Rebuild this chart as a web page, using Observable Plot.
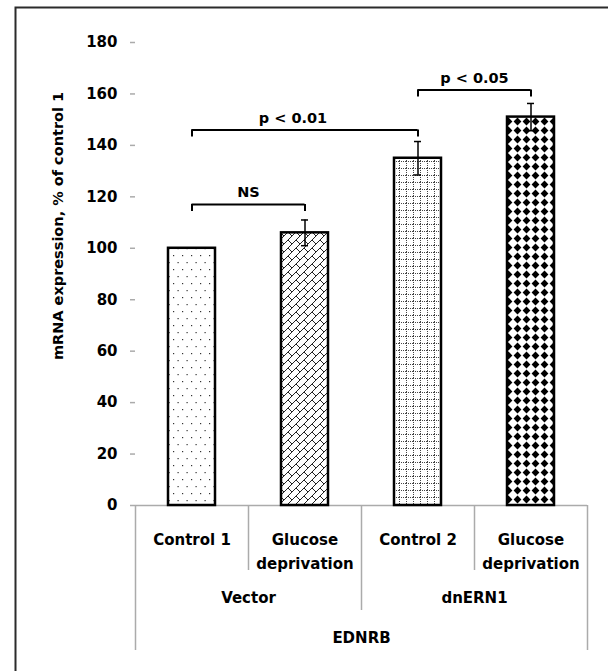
<!DOCTYPE html>
<html>
<head>
<meta charset="utf-8">
<script src="https://cdn.jsdelivr.net/npm/d3@7"></script>
<script src="https://cdn.jsdelivr.net/npm/@observablehq/plot@0.6"></script>
<style>
  html, body { margin: 0; padding: 0; background: #fff; overflow: hidden; }
  #chart { width: 608px; height: 671px; overflow: hidden; }
  #chart svg { overflow: hidden; }
</style>
</head>
<body>
<div id="chart"></div>
<script>
// Bar categories (innermost axis level), their groups and the gene
const categories = ["Control 1", "Glucose\ndeprivation", "Control 2", "Glucose\ndeprivation"];
const groups = ["Vector", "dnERN1"];
const gene = "EDNRB";

// mRNA expression, % of control 1, with error
const values = [100, 106, 135, 151];
const errors = [0, 5, 6.5, 5.3];

// y axis ticks
const yTicks = [0, 20, 40, 60, 80, 100, 120, 140, 160, 180];
const yLabel = "mRNA expression, % of control 1";

// significance brackets: between bar indices, height, label
const bracketFrom = [0, 0, 2];
const bracketTo = [1, 2, 3];
const bracketLevel = [117, 146, 161.5];
const bracketLabels = ["NS", "p < 0.01", "p < 0.05"];

// ---- build tables ----
const table = categories.map((cat, i) => ({i, cat, value: values[i], err: errors[i]}));
const withErr = table.filter(d => d.err > 0);
const caps = withErr.flatMap(d => [{i: d.i, y: d.value - d.err}, {i: d.i, y: d.value + d.err}]);
const brackets = bracketLabels.map((label, k) => ({
  label, from: bracketFrom[k], to: bracketTo[k], level: bracketLevel[k], mid: (bracketFrom[k] + bracketTo[k]) / 2
}));
const bracketEnds = brackets.flatMap(b => [{x: b.from, level: b.level}, {x: b.to, level: b.level}]);

// hierarchical axis boundaries between categories
const n = categories.length;
const perGroup = n / groups.length;
const boundaries = d3.range(n + 1).map(k => ({x: k - 0.5, k}));
const outerBounds = boundaries.filter(b => b.k === 0 || b.k === n);
const groupBounds = boundaries.filter(b => b.k !== 0 && b.k !== n && b.k % perGroup === 0);
const catBounds = boundaries.filter(b => b.k % perGroup !== 0);
const groupTable = groups.map((g, gi) => ({g, x: gi * perGroup + (perGroup - 1) / 2}));

const patternIds = ["url(#pat-dots)", "url(#pat-brick)", "url(#pat-grid)", "url(#pat-diamond)"];
const gray = "#ababab";

const chart = Plot.plot({
  width: 608,
  height: 671,
  marginLeft: 135,
  marginRight: 21,
  marginTop: 42,
  marginBottom: 166,
  style: {fontFamily: "DejaVu Sans", fontWeight: "bold", fontSize: "15px", color: "black", background: "white"},
  x: {type: "linear", domain: [-0.5, n - 0.5], axis: null},
  y: {domain: [0, 180], axis: null},
  color: {type: "identity"},
  marks: [
    // outer border of the figure (its right and bottom sides fall outside the picture)
    Plot.frame({insetLeft: -120, insetTop: -35, insetRight: -40, insetBottom: -220, stroke: "#2b2b2b", strokeWidth: 2}),
    Plot.axisY({ticks: yTicks, tickSize: 5, tickPadding: 13, stroke: gray, strokeWidth: 1.5,
                fill: "black", fontSize: 15, fontWeight: "bold", line: true, label: null}),
    Plot.text([yLabel], {frameAnchor: "left", textAnchor: "middle", dx: -77, dy: -48, rotate: -90, fontSize: 14.5, fill: "black"}),
    // zero line and the category box below it
    Plot.ruleY([0], {stroke: gray, strokeWidth: 1.5}),
    Plot.ruleX(outerBounds, {x: "x", y1: 0, y2: 0, insetBottom: -145, stroke: gray, strokeWidth: 1.5}),
    Plot.ruleX(groupBounds, {x: "x", y1: 0, y2: 0, insetBottom: -105, stroke: gray, strokeWidth: 1.5}),
    Plot.ruleX(catBounds, {x: "x", y1: 0, y2: 0, insetBottom: -65, stroke: gray, strokeWidth: 1.5}),
    // bars
    Plot.rectY(table, {x1: d => d.i - 0.5, x2: d => d.i + 0.5, y1: 0, y2: "value",
                       insetLeft: 33, insetRight: 33,
                       fill: d => patternIds[d.i], stroke: "black", strokeWidth: 2.5}),
    // error bars
    Plot.ruleX(withErr, {x: "i", y1: d => d.value - d.err, y2: d => d.value + d.err, stroke: "black", strokeWidth: 1.5}),
    Plot.ruleY(caps, {x1: "i", x2: "i", y: "y", insetLeft: -3.5, insetRight: -3.5, stroke: "black", strokeWidth: 1.5}),
    // significance brackets
    Plot.ruleY(brackets, {x1: "from", x2: "to", y: "level", stroke: "black", strokeWidth: 2}),
    Plot.ruleX(bracketEnds, {x: "x", y1: "level", y2: "level", insetBottom: -7, stroke: "black", strokeWidth: 2}),
    Plot.text(brackets.filter(b => b.label !== "p < 0.01"), {x: "mid", y: "level", text: "label", dy: -12, fontSize: 14.5, fill: "black"}),
    Plot.text(brackets.filter(b => b.label === "p < 0.01"), {x: "mid", y: "level", text: "label", dy: -12, dx: -12, fontSize: 14.5, fill: "black"}),
    // category axis labels
    Plot.text(table, {x: "i", y: 0, text: "cat", lineAnchor: "top", dy: 22.3, lineHeight: 1.6, fontSize: 15, fill: "black"}),
    Plot.text(groupTable, {x: "x", y: 0, text: "g", lineAnchor: "top", dy: 87.3, fontSize: 15, fill: "black"}),
    Plot.text([gene], {x: (n - 1) / 2, y: 0, lineAnchor: "top", dy: 127.3, fontSize: 15, fill: "black"})
  ]
});

// fill patterns for the bars
const defs = d3.select(chart).insert("defs", ":first-child");
function pattern(id, w, h) {
  const p = defs.append("pattern").attr("id", id).attr("patternUnits", "userSpaceOnUse")
    .attr("width", w).attr("height", h);
  p.append("rect").attr("width", w).attr("height", h).attr("fill", "white");
  return p;
}
{
  const p = pattern("pat-dots", 9, 14);
  p.append("rect").attr("x", 2).attr("y", 3).attr("width", 1.2).attr("height", 1.2).attr("fill", "#333");
  p.append("rect").attr("x", 6.5).attr("y", 10).attr("width", 1.2).attr("height", 1.2).attr("fill", "#333");
}
{
  const p = pattern("pat-brick", 8, 8);
  p.append("path").attr("d", "M0,8L8,0M-1,1L1,-1M7,9L9,7M0,0L4,4")
    .attr("stroke", "#222").attr("stroke-width", 1).attr("fill", "none");
}
{
  const p = pattern("pat-grid", 7, 7);
  p.append("path").attr("d", "M0,0.5H7M0.5,0V7")
    .attr("stroke", "#444").attr("stroke-width", 1).attr("stroke-dasharray", "1,1").attr("fill", "none");
}
{
  const p = pattern("pat-diamond", 9, 9);
  p.append("path").attr("d", "M4.5,0.6L8.4,4.5L4.5,8.4L0.6,4.5Z").attr("fill", "black");
}

document.getElementById("chart").append(chart);
</script>
</body>
</html>
